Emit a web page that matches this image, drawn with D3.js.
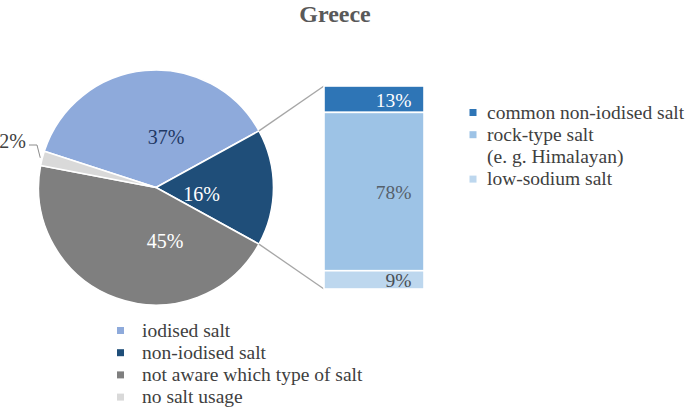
<!DOCTYPE html>
<html><head><meta charset="utf-8">
<script src="https://cdn.jsdelivr.net/npm/d3@7"></script>
<style>body{margin:0;background:#fff}svg{display:block}</style>
</head><body>
<svg id="c" width="685" height="408"></svg>
<script>
// ---- data ----
const pieCategories = ["iodised salt", "non-iodised salt", "not aware which type of salt", "no salt usage"];
const pieValues = [37, 16, 45, 2];
const pieLabels = ["37%", "16%", "45%", "2%"];
const barCategories = ["common non-iodised salt", "rock-type salt|(e. g. Himalayan)", "low-sodium salt"];
const barValues = [13, 78, 9];
const barLabels = ["13%", "78%", "9%"];
const title = "Greece";

// ---- style / layout ----
const pieColors = ["#8eaadb", "#1f4e79", "#7f7f7f", "#d9d9d9"];
const pieLabelColors = ["#1f3864", "#ffffff", "#ffffff", "#404040"];
const barColors = ["#2e75b6", "#9dc3e6", "#bdd7ee"];
const barLabelColors = ["#ffffff", "#55606b", "#4a4f55"];
const textColor = "#404040";
const FONT = '"Liberation Serif"';

const svg = d3.select("#c");
const cx = 156, cy = 187.5, R = 117.5;
const deg = Math.PI / 180;
const txt = sel => sel.style("font-family", FONT);

// title
svg.append("text").attr("x", 335).attr("y", 21.5).attr("text-anchor", "middle")
  .call(txt).style("font-weight", "bold").style("font-size", "24px")
  .attr("fill", "#595959").text(title);

// pie
const pie = d3.pie().sort(null).startAngle(-72 * deg).endAngle(288 * deg);
const arcs = pie(pieValues);
const arc = d3.arc().innerRadius(0).outerRadius(R);
const g = svg.append("g").attr("transform", `translate(${cx},${cy})`);
g.selectAll("path").data(arcs).join("path")
  .attr("d", arc).attr("fill", (d, i) => pieColors[i])
  .attr("stroke", "#fff").attr("stroke-width", 1.6).attr("stroke-linejoin", "round");

// pie labels (offsets from pie center)
const labelOffsets = [[10, -43.5], [45.5, 13], [9, 60.5]];
labelOffsets.forEach((o, i) => {
  g.append("text").attr("x", o[0]).attr("y", o[1]).attr("text-anchor", "middle")
    .call(txt).style("font-size", "20px").attr("fill", pieLabelColors[i])
    .text(pieLabels[i]);
});
// 2% outside label with leader
{
  const a = arcs[3];
  const mid = (a.startAngle + a.endAngle) / 2;
  const px = (R + 2) * Math.sin(mid), py = -(R + 2) * Math.cos(mid);
  const tx = 26 - cx, ty = 148 - cy;
  g.append("path").attr("d", `M${tx + 3},${ty - 3}H${tx + 11}L${px},${py}`)
    .attr("fill", "none").attr("stroke", "#8c8c8c").attr("stroke-width", 1);
  g.append("text").attr("x", tx).attr("y", ty).attr("text-anchor", "end")
    .call(txt).style("font-size", "20px").attr("fill", pieLabelColors[3])
    .text(pieLabels[3]);
}

// bar of pie
const barX = 324, barW = 100;
const y = d3.scaleLinear().domain([0, d3.sum(barValues)]).range([86, 289]);
const stacked = [];
let acc = 0;
barValues.forEach((v, i) => { stacked.push({ i, y0: acc, y1: acc + v }); acc += v; });

// connector lines from non-iodised slice edges to bar corners
{
  const a = arcs[1];
  const p1 = [cx + R * Math.sin(a.startAngle), cy - R * Math.cos(a.startAngle)];
  const p2 = [cx + R * Math.sin(a.endAngle), cy - R * Math.cos(a.endAngle)];
  svg.append("line").attr("x1", p1[0]).attr("y1", p1[1]).attr("x2", barX).attr("y2", y(0))
    .attr("stroke", "#a6a6a6").attr("stroke-width", 1.3);
  svg.append("line").attr("x1", p2[0]).attr("y1", p2[1]).attr("x2", barX).attr("y2", y(d3.sum(barValues)))
    .attr("stroke", "#a6a6a6").attr("stroke-width", 1.3);
}

svg.selectAll("rect.bar").data(stacked).join("rect").attr("class", "bar")
  .attr("x", barX).attr("width", barW)
  .attr("y", d => y(d.y0)).attr("height", d => y(d.y1) - y(d.y0))
  .attr("fill", d => barColors[d.i]).attr("stroke", "#fff").attr("stroke-width", 1.6);

svg.selectAll("text.bl").data(stacked).join("text").attr("class", "bl")
  .attr("x", 411.5).attr("y", d => (y(d.y0) + y(d.y1)) / 2 + 7.5)
  .attr("text-anchor", "end").call(txt).style("font-size", "19.5px")
  .attr("fill", d => barLabelColors[d.i]).text(d => barLabels[d.i]);

// right legend
{
  let row = 0;
  const rowY = r => 112.5 + r * 22.2;
  barCategories.forEach((c, i) => {
    const lines = c.split("|");
    svg.append("rect").attr("x", 469.5).attr("y", rowY(row) - 3.5).attr("width", 7).attr("height", 7)
      .attr("fill", barColors[i]);
    lines.forEach(l => {
      svg.append("text").attr("x", 487).attr("y", rowY(row) + 6)
        .call(txt).style("font-size", "19.5px").attr("fill", textColor).text(l);
      row++;
    });
  });
}

// bottom legend
pieCategories.forEach((c, i) => {
  const yy = 330.5 + i * 22.2;
  svg.append("rect").attr("x", 117).attr("y", yy - 3.5).attr("width", 7).attr("height", 7)
    .attr("fill", pieColors[i]);
  svg.append("text").attr("x", 142).attr("y", yy + 6)
    .call(txt).style("font-size", "19.5px").attr("fill", textColor).text(c);
});
</script>
</body></html>
